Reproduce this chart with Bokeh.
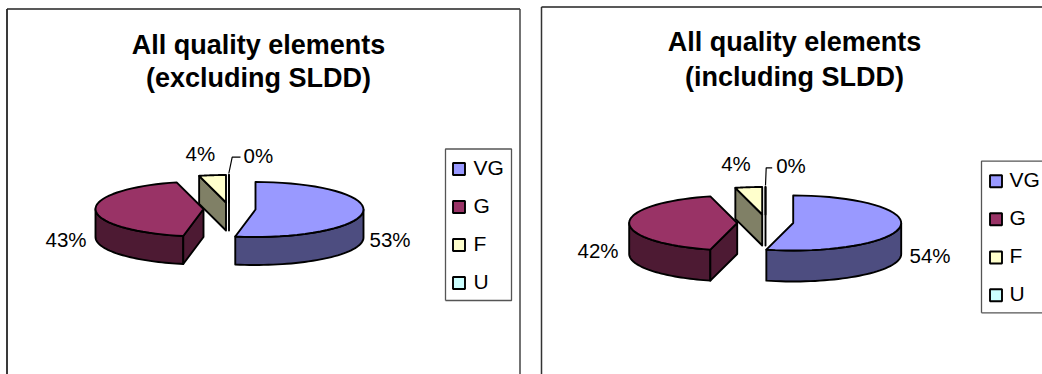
import math

from bokeh.core.properties import value
from bokeh.embed import file_html
from bokeh.models import Range1d
from bokeh.plotting import figure
from bokeh.resources import INLINE

# Share of each grade in the two quality summaries, in percent
grades = ["VG", "G", "F", "U"]
excluding_sldd = [53, 43, 4, 0]
including_sldd = [54, 42, 4, 0]
titles_excluding = ["All quality elements", "(excluding SLDD)"]
titles_including = ["All quality elements", "(including SLDD)"]

top_colours = ["#9999FF", "#993366", "#FFFFCC", "#CCFFFF"]
side_colours = ["#4D4D80", "#4D1A33", "#808066", "#668080"]

FONT = "Liberation Sans"
TITLE_SIZE = 27
LABEL_SIZE = 20.5
LEGEND_SIZE = 21

p = figure(width=1042, height=374, output_backend="svg", toolbar_location=None,
           x_range=Range1d(0, 1042), y_range=Range1d(374, 0),
           min_border=0, outline_line_color=None, background_fill_color="white")
p.axis.visible = False
p.grid.visible = False


def rim(cx, cy, a, b, start, end, drop=0.0, steps=40):
    """Points of the elliptical pie edge, clockwise from 12 o'clock, in degrees."""
    xs, ys = [], []
    for i in range(steps + 1):
        t = math.radians(start + (end - start) * i / steps)
        xs.append(cx + a * math.sin(t))
        ys.append(cy - b * math.cos(t) + drop)
    return xs, ys


def draw_pie(values, centres, a, b, depth):
    """Exploded pie with a 3D rim; slice angles come straight from the values."""
    total = sum(values)
    angle = 0.0
    for i, v in enumerate(values):
        start, end = angle, angle + 360.0 * v / total
        angle = end
        cx, cy = centres[i]
        style = dict(line_color="black", line_width=1.9, line_join="round")

        # Outer wall, only where the rim faces the viewer
        lo, hi = max(start, 90.0), min(end, 270.0)
        if hi > lo:
            x1, y1 = rim(cx, cy, a, b, lo, hi)
            x2, y2 = rim(cx, cy, a, b, lo, hi, drop=depth)
            p.patch(x1 + x2[::-1], y1 + y2[::-1], fill_color=side_colours[i], **style)

        # Cut faces that turn towards the viewer
        faces = []
        if 180.0 <= start % 360.0 or (start % 360.0 == 0.0 and start > 0.0):
            faces.append(start)
        if 0.0 < end < 180.0:
            faces.append(end)
        for f in faces:
            ex, ey = rim(cx, cy, a, b, f, f, steps=1)
            fx = [cx, ex[0], ex[0], cx]
            fy = [cy, ey[0], ey[0] + depth, cy + depth]
            p.patch(fx, fy, fill_color=side_colours[i], **style)

        # Top surface
        tx, ty = rim(cx, cy, a, b, start, end)
        p.patch([cx] + tx, [cy] + ty, fill_color=top_colours[i], **style)


def draw_text(x, baseline, s, size, bold=False, align="left"):
    # Placed by the middle of the capitals, which sit about 0.36 em above the baseline
    p.text([x], [baseline - 0.36 * size], text=[s], text_font=value(FONT),
           text_font_size=value(f"{size}px"),
           text_font_style="bold" if bold else "normal", text_color="black",
           text_align=align, text_baseline="middle")


def draw_legend(left, right, top, bottom, swatch_x, text_x, rows):
    p.line([left, left, right, right, left], [bottom, top, top, bottom, bottom],
           line_color="#555555", line_width=1.3)
    for name, colour, y in zip(grades, top_colours, rows):
        p.quad(left=[swatch_x], right=[swatch_x + 12], top=[y - 6], bottom=[y + 6],
               fill_color=colour, line_color="black", line_width=1.9)
        draw_text(text_x, y + 6, name, LEGEND_SIZE)


# Chart frames, open at the lower edge of the page
p.line([6.5, 6.5], [374, 8.5], line_color="#3a3a3a", line_width=2)
p.line([6.5, 519.5], [8.5, 8.5], line_color="#222222", line_width=1.6)
p.line([519.5, 519.5], [8.5, 374], line_color="#444444", line_width=1.5)
p.line([541, 541], [374, 6.5], line_color="#333333", line_width=1.5)
p.line([541, 1042], [6.5, 6.5], line_color="#222222", line_width=1.4)

# Left chart
draw_text(258, 54.2, titles_excluding[0], TITLE_SIZE, bold=True, align="center")
draw_text(258, 87.5, titles_excluding[1], TITLE_SIZE, bold=True, align="center")
draw_pie(excluding_sldd, [(255, 209), (203, 208.5), (225.5, 202), (228.5, 202)], 108, 27.5, 28)
p.line([228.3, 231.7, 240], [173, 156.7, 156.7], line_color="black", line_width=1.2)
draw_text(369, 246, f"{excluding_sldd[0]}%", LABEL_SIZE)
draw_text(45, 246, f"{excluding_sldd[1]}%", LABEL_SIZE)
draw_text(185, 160, f"{excluding_sldd[2]}%", LABEL_SIZE)
draw_text(243, 162.7, f"{excluding_sldd[3]}%", LABEL_SIZE)
draw_legend(445, 511, 148.5, 300, 452.5, 473, [168.5, 206.5, 244.5, 282.5])

# Right chart
draw_text(794, 51.7, titles_including[0], TITLE_SIZE, bold=True, align="center")
draw_text(794, 86, titles_including[1], TITLE_SIZE, bold=True, align="center")
draw_pie(including_sldd, [(792.7, 222.5), (736.7, 222.5), (761.7, 214), (765, 214)], 108, 27.5, 31)
p.line([765, 765.7, 771.7], [185, 167.3, 167.3], line_color="black", line_width=1.2)
draw_text(909, 262, f"{including_sldd[0]}%", LABEL_SIZE)
draw_text(577, 257, f"{including_sldd[1]}%", LABEL_SIZE)
draw_text(720.7, 170, f"{including_sldd[2]}%", LABEL_SIZE)
draw_text(775.7, 172, f"{including_sldd[3]}%", LABEL_SIZE)
draw_legend(981, 1050, 160.7, 312.3, 989.5, 1009, [180.7, 218.7, 257, 294.7])

open("out.html", "w").write(file_html(p, INLINE))
